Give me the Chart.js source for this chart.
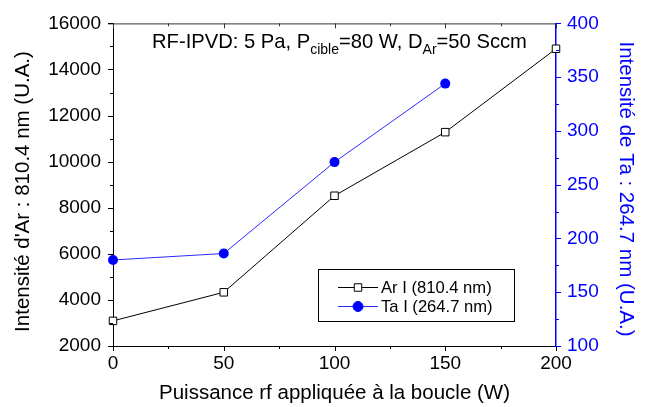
<!DOCTYPE html>
<html>
<head>
<meta charset="utf-8">
<script src="https://cdn.jsdelivr.net/npm/chart.js@4"></script>
<style>html,body{margin:0;padding:0;background:#fff;}canvas{display:block;}</style>
</head>
<body>
<canvas id="c" width="646" height="407"></canvas>
<script>
const power = [0, 50, 100, 150, 200];
const arI = [3090, 4330, 8520, 11280, 14900];
const taPower = [0, 50, 100, 150];
const taI = [180, 186, 271, 344];
const xTicks = [0, 50, 100, 150, 200];
const leftTicks = [2000, 4000, 6000, 8000, 10000, 12000, 14000, 16000];
const rightTicks = [100, 150, 200, 250, 300, 350, 400];
const leftTitle = "Intensité d'Ar : 810.4 nm (U.A.)";
const rightTitle = 'Intensité de Ta : 264.7 nm (U.A.)';
const xTitle = 'Puissance rf appliquée à la boucle (W)';

const FONT = '"Liberation Sans", Arial, Helvetica, sans-serif';
const BLUE = '#0000ff';

const extras = {
  id: 'extras',
  afterDraw(chart) {
    const ctx = chart.ctx;
    const x = chart.scales.x, y = chart.scales.y, y1 = chart.scales.y1;
    const a = chart.chartArea;
    ctx.save();
    ctx.lineWidth = 1;
    // top border
    ctx.strokeStyle = '#333';
    ctx.beginPath(); ctx.moveTo(a.left - 5, a.top + 0.5); ctx.lineTo(a.right, a.top + 0.5); ctx.stroke();
    // left ticks
    ctx.strokeStyle = '#000';
    for (let v = y.min; v <= y.max; v += 1000) {
      const py = Math.round(y.getPixelForValue(v)) + 0.5;
      const len = (v % 2000 === 0) ? 5 : 3;
      ctx.beginPath(); ctx.moveTo(a.left - len, py); ctx.lineTo(a.left, py); ctx.stroke();
    }
    // bottom & top ticks
    for (let v = x.min; v <= x.max; v += 25) {
      const px = Math.round(x.getPixelForValue(v)) + 0.5;
      const len = (v % 50 === 0) ? 5 : 3;
      ctx.strokeStyle = '#000';
      ctx.beginPath(); ctx.moveTo(px, a.bottom); ctx.lineTo(px, a.bottom + len); ctx.stroke();
      ctx.strokeStyle = '#333';
      ctx.beginPath(); ctx.moveTo(px, a.top); ctx.lineTo(px, a.top + len); ctx.stroke();
    }
    // right ticks
    ctx.strokeStyle = BLUE;
    for (let v = y1.min; v <= y1.max; v += 25) {
      const py = Math.round(y1.getPixelForValue(v)) + 0.5;
      const len = (v % 50 === 0) ? 5 : 3;
      ctx.beginPath(); ctx.moveTo(a.right, py); ctx.lineTo(a.right + len, py); ctx.stroke();
    }
    // rotated axis titles
    ctx.font = '20.5px ' + FONT;
    ctx.textAlign = 'center';
    ctx.textBaseline = 'middle';
    ctx.save();
    ctx.translate(23, 191.5); ctx.rotate(-Math.PI / 2);
    ctx.fillStyle = '#000'; ctx.fillText(leftTitle, 0, 0);
    ctx.restore();
    ctx.save();
    ctx.translate(626, 189); ctx.rotate(Math.PI / 2);
    ctx.fillStyle = BLUE; ctx.fillText(rightTitle, 0, 0);
    ctx.restore();
    // annotation title with subscripts
    ctx.fillStyle = '#000';
    ctx.textBaseline = 'alphabetic';
    ctx.textAlign = 'left';
    const big = '20.2px ' + FONT, small = '14px ' + FONT;
    let tx = 152; const by = 48, sy = 54;
    const parts = [['RF-IPVD: 5 Pa, P', big, by], ['cible', small, sy], ['=80 W, D', big, by], ['Ar', small, sy], ['=50 Sccm', big, by]];
    for (const [t, f, yy] of parts) { ctx.font = f; ctx.fillText(t, tx, yy); tx += ctx.measureText(t).width; }
    // legend
    ctx.strokeStyle = '#000';
    ctx.lineWidth = 1;
    ctx.strokeRect(318.5, 269.5, 196, 52);
    const rows = [
      {ds: chart.data.datasets[0], yy: 287},
      {ds: chart.data.datasets[1], yy: 306}
    ];
    ctx.font = '16.6px ' + FONT;
    ctx.textBaseline = 'middle';
    for (const r of rows) {
      ctx.strokeStyle = r.ds.borderColor; ctx.lineWidth = 1;
      ctx.beginPath(); ctx.moveTo(338, r.yy + 0.5); ctx.lineTo(378, r.yy + 0.5); ctx.stroke();
      ctx.fillStyle = r.ds.pointBackgroundColor; ctx.strokeStyle = r.ds.pointBorderColor;
      ctx.beginPath();
      if (r.ds.pointStyle === 'rect') { const s = Math.SQRT1_2 * r.ds.pointRadius; ctx.rect(358 - s, r.yy + 0.5 - s, 2 * s, 2 * s); }
      else { ctx.arc(358, r.yy + 0.5, r.ds.pointRadius, 0, Math.PI * 2); }
      ctx.fill(); ctx.stroke();
      ctx.fillStyle = '#000';
      ctx.fillText(r.ds.label, 381, r.yy + 1);
    }
    ctx.restore();
  }
};

new Chart(document.getElementById('c'), {
  type: 'line',
  data: {
    datasets: [
      {
        label: 'Ar I (810.4 nm)',
        data: power.map((p, i) => ({x: p, y: arI[i]})),
        yAxisID: 'y',
        borderColor: '#000', borderWidth: 1,
        pointStyle: 'rect', pointRadius: 5.3,
        pointBackgroundColor: '#fff', pointBorderColor: '#000', pointBorderWidth: 1,
        tension: 0, clip: false
      },
      {
        label: 'Ta I (264.7 nm)',
        data: taPower.map((p, i) => ({x: p, y: taI[i]})),
        yAxisID: 'y1',
        borderColor: '#2a2aff', borderWidth: 1,
        pointStyle: 'circle', pointRadius: 5,
        pointBackgroundColor: BLUE, pointBorderColor: BLUE, pointBorderWidth: 0,
        tension: 0, clip: false
      }
    ]
  },
  options: {
    responsive: false,
    animation: false,
    layout: {padding: {top: 16, left: 0, right: 0, bottom: 0}},
    plugins: {legend: {display: false}, tooltip: {enabled: false}},
    scales: {
      x: {
        type: 'linear', position: 'bottom', min: 0, max: 200,
        afterBuildTicks: s => { s.ticks = xTicks.map(v => ({value: v})); },
        afterFit: s => { s.height = 61; },
        grid: {drawOnChartArea: false, drawTicks: false},
        border: {color: '#000', width: 1},
        ticks: {color: '#000', font: {family: FONT, size: 19}, padding: 6, maxRotation: 0, callback: v => String(v)},
        title: {display: true, text: xTitle, color: '#000', font: {family: FONT, size: 20.5}, padding: {top: 0, bottom: 1}}
      },
      y: {
        type: 'linear', position: 'left', min: 2000, max: 16000,
        afterBuildTicks: s => { s.ticks = leftTicks.map(v => ({value: v})); },
        afterFit: s => { s.width = 113; },
        grid: {drawOnChartArea: false, drawTicks: false},
        border: {color: '#000', width: 1},
        ticks: {color: '#000', font: {family: FONT, size: 19}, padding: 12, callback: v => String(v)}
      },
      y1: {
        type: 'linear', position: 'right', min: 100, max: 400,
        afterBuildTicks: s => { s.ticks = rightTicks.map(v => ({value: v})); },
        afterFit: s => { s.width = 90; },
        grid: {drawOnChartArea: false, drawTicks: false},
        border: {color: BLUE, width: 1.5},
        ticks: {color: BLUE, font: {family: FONT, size: 19}, padding: 11, callback: v => String(v)}
      }
    }
  },
  plugins: [extras]
});
</script>
</body>
</html>
